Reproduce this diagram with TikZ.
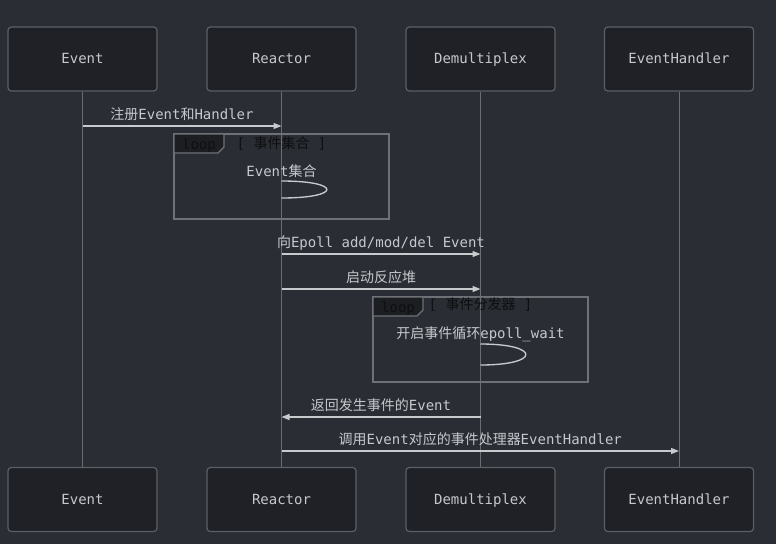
\documentclass[tikz,border=0pt]{standalone}
\usepackage{fontspec}
\setmainfont{DejaVu Sans Mono}
\newfontfamily\cjk{Noto Sans CJK SC}
\newcommand\zh[1]{{\cjk #1}}
\usetikzlibrary{arrows.meta}
\definecolor{bg}{HTML}{2A2D33}
\definecolor{boxfill}{HTML}{1F2126}
\definecolor{boxline}{HTML}{5C5F65}
\definecolor{txt}{HTML}{C5C8CC}
\definecolor{lifeline}{HTML}{6A6D72}
\definecolor{arrowcol}{HTML}{C8CACD}
\definecolor{loopline}{HTML}{6E7176}
\definecolor{tabfill}{HTML}{1C1E22}
\definecolor{looptxt}{HTML}{0E0F11}

\begin{document}
\begin{tikzpicture}[x=0.75pt,y=-0.75pt,
		actor/.style={draw=boxline,line width=0.9pt,fill=boxfill,rounded corners=2.5pt,minimum width=111.75pt,minimum height=48pt,inner sep=0pt,text height=0.73em,text depth=0pt,text=txt,font=\fontsize{10.5}{12}\selectfont},
		life/.style={draw=lifeline,line width=0.75pt},
		msg/.style={draw=arrowcol,line width=1pt,-{Triangle[length=6pt,width=4.5pt]}},
		lbl/.style={midway,anchor=base,yshift=5.25pt,inner sep=0pt,text=txt,font=\fontsize{10.5}{12}\selectfont},
		loopbox/.style={draw=loopline,line width=1pt},
		looptab/.style={draw=loopline,line width=1pt,fill=tabfill},
		looptitle/.style={anchor=base,inner sep=0pt,text=looptxt,font=\fontsize{10.5}{12}\selectfont},
		selftxt/.style={anchor=base,inner sep=0pt,text=txt,font=\fontsize{10.5}{12}\selectfont},
		selfmsg/.style={draw=arrowcol,line width=1pt}]
			\fill[bg] (0,0) rectangle (776,544);
			\useasboundingbox (0,0) rectangle (776,544);
			\node[actor] (evt) at (82.5,59) {Event};
			\node[actor] (rea) at (281.5,59) {Reactor};
			\node[actor] (dem) at (480.5,59) {Demultiplex};
			\node[actor] (hdl) at (679,59) {EventHandler};
			\node[actor] (evtb) at (82.5,499.5) {Event};
			\node[actor] (reab) at (281.5,499.5) {Reactor};
			\node[actor] (demb) at (480.5,499.5) {Demultiplex};
			\node[actor] (hdlb) at (679,499.5) {EventHandler};
			\draw[life] (evt.south) -- (evtb.north);
			\draw[life] (rea.south) -- (reab.north);
			\draw[life] (dem.south) -- (demb.north);
			\draw[life] (hdl.south) -- (hdlb.north);
			\draw[msg] (evt |- 0,126) -- (rea |- 0,126) node[lbl] {\zh{注册}Event\zh{和}Handler};
			\draw[loopbox] (174,134) rectangle (389,219);
			\draw[looptab] (174,134) -- (224,134) -- (224,147) -- (218,153) -- (174,153) -- cycle;
			\node[looptitle] (loopa) at (199,149.5) {loop};
			\node[looptitle] (titlea) at (281.5,148) {[ \zh{事件集合} ]};
			\node[selftxt] (selfa) at (281.5,176) {Event\zh{集合}};
			\draw[selfmsg] (rea |- 0,181) .. controls (342,181) and (342,198) .. (rea |- 0,198);
			\draw[msg] (rea |- 0,254) -- (dem |- 0,254) node[lbl] {\zh{向}Epoll add/mod/del Event};
			\draw[msg] (rea |- 0,289) -- (dem |- 0,289) node[lbl] {\zh{启动反应堆}};
			\draw[loopbox] (373,297) rectangle (588,382);
			\draw[looptab] (373,297) -- (423,297) -- (423,310) -- (417,316) -- (373,316) -- cycle;
			\node[looptitle] (loopb) at (398,312.5) {loop};
			\node[looptitle] (titleb) at (480.5,309) {[ \zh{事件分发器} ]};
			\node[selftxt] (selfb) at (480.5,338) {\zh{开启事件循环}epoll\_wait};
			\draw[selfmsg] (dem |- 0,344) .. controls (541,344) and (541,365) .. (dem |- 0,365);
			\draw[msg] (dem |- 0,417) -- (rea |- 0,417) node[lbl] {\zh{返回发生事件的}Event};
			\draw[msg] (rea |- 0,451) -- (hdl |- 0,451) node[lbl] {\zh{调用}Event\zh{对应的事件处理器}EventHandler};
		\end{tikzpicture}
\end{document}
